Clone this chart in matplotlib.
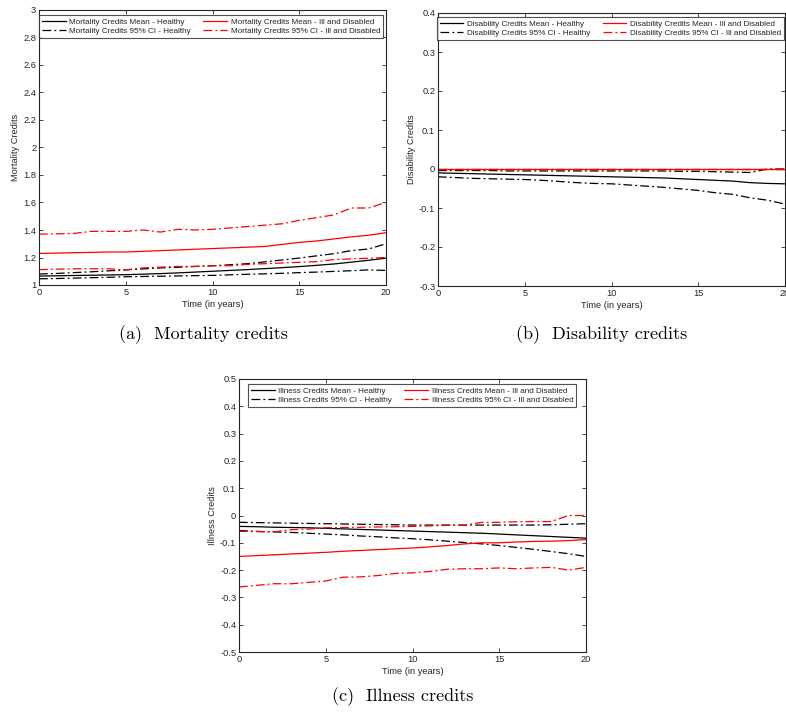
import matplotlib
matplotlib.use('Agg')
import matplotlib.pyplot as plt
import numpy as np

plt.rcParams['font.family'] = ['Liberation Sans', 'DejaVu Sans']

years = np.arange(0, 21)

# (a) mortality credits
mort_mean_h = [1.065, 1.067, 1.069, 1.071, 1.073, 1.075, 1.079, 1.083, 1.088, 1.094, 1.100,
               1.106, 1.112, 1.119, 1.126, 1.134, 1.143, 1.153, 1.166, 1.180, 1.195]
mort_hi_h = [1.080, 1.084, 1.090, 1.096, 1.103, 1.110, 1.117, 1.124, 1.129, 1.135, 1.140,
             1.147, 1.155, 1.168, 1.182, 1.196, 1.212, 1.228, 1.250, 1.262, 1.300]
mort_lo_h = [1.045, 1.047, 1.050, 1.053, 1.056, 1.060, 1.062, 1.064, 1.066, 1.068, 1.070,
             1.074, 1.078, 1.081, 1.085, 1.090, 1.094, 1.099, 1.104, 1.110, 1.106]
mort_mean_i = [1.230, 1.232, 1.235, 1.237, 1.240, 1.240, 1.245, 1.250, 1.255, 1.260, 1.265,
               1.270, 1.275, 1.280, 1.295, 1.310, 1.320, 1.335, 1.350, 1.362, 1.380]
mort_hi_i = [1.370, 1.372, 1.375, 1.390, 1.390, 1.390, 1.400, 1.385, 1.405, 1.400, 1.405,
             1.415, 1.425, 1.435, 1.445, 1.470, 1.490, 1.510, 1.560, 1.560, 1.600]
mort_lo_i = [1.112, 1.115, 1.118, 1.118, 1.118, 1.110, 1.125, 1.130, 1.135, 1.135, 1.140,
             1.140, 1.150, 1.155, 1.160, 1.165, 1.170, 1.185, 1.190, 1.195, 1.200]

# (b) disability credits
dis_mean_h = [-0.010, -0.011, -0.012, -0.013, -0.014, -0.015, -0.016, -0.017, -0.018, -0.019, -0.020,
              -0.021, -0.022, -0.023, -0.025, -0.027, -0.029, -0.031, -0.035, -0.037, -0.038]
dis_hi_h = [-0.004, -0.004, -0.004, -0.004, -0.005, -0.005, -0.005, -0.005, -0.005, -0.005, -0.005,
            -0.005, -0.005, -0.005, -0.006, -0.006, -0.007, -0.008, -0.009, 0.0, 0.0]
dis_lo_h = [-0.020, -0.022, -0.024, -0.025, -0.026, -0.027, -0.029, -0.032, -0.035, -0.037, -0.038,
            -0.041, -0.044, -0.047, -0.051, -0.055, -0.061, -0.065, -0.074, -0.080, -0.090]
dis_mean_i = [0.0] * 21
dis_hi_i = [0.0] * 21
dis_lo_i = [0.0] * 21

# (c) illness credits
ill_mean_h = [-0.040, -0.041, -0.043, -0.044, -0.045, -0.047, -0.049, -0.051, -0.053, -0.055, -0.057,
              -0.059, -0.061, -0.063, -0.065, -0.068, -0.071, -0.074, -0.077, -0.080, -0.083]
ill_hi_h = [-0.025, -0.026, -0.027, -0.028, -0.029, -0.030, -0.031, -0.032, -0.033, -0.034, -0.035,
            -0.035, -0.035, -0.035, -0.035, -0.035, -0.035, -0.035, -0.034, -0.032, -0.030]
ill_lo_h = [-0.055, -0.058, -0.060, -0.062, -0.065, -0.068, -0.071, -0.075, -0.078, -0.082, -0.085,
            -0.089, -0.094, -0.099, -0.104, -0.110, -0.117, -0.124, -0.132, -0.140, -0.150]
ill_mean_i = [-0.150, -0.147, -0.144, -0.141, -0.138, -0.135, -0.131, -0.128, -0.125, -0.122, -0.119,
              -0.115, -0.110, -0.104, -0.100, -0.100, -0.097, -0.095, -0.094, -0.092, -0.088]
ill_hi_i = [-0.058, -0.059, -0.060, -0.052, -0.050, -0.045, -0.044, -0.043, -0.042, -0.041, -0.040,
            -0.038, -0.036, -0.035, -0.025, -0.025, -0.023, -0.022, -0.022, 0.0, 0.0]
ill_lo_i = [-0.262, -0.256, -0.250, -0.250, -0.245, -0.240, -0.226, -0.225, -0.220, -0.212, -0.210,
            -0.205, -0.197, -0.195, -0.195, -0.192, -0.195, -0.192, -0.190, -0.200, -0.190]

DD = (0, (7, 2.5, 1.5, 2.5))
TXT = '#262626'


def fmt1(v):
    s = ('%.1f' % v).rstrip('0').rstrip('.')
    return '0' if s in ('-0', '0') else s


def panel(ax, name, series, ylim, yticks, leg_anchor):
    mh, hh, lh, mi, hi, li = series
    ax.plot(years, mh, color='black', lw=0.9, label=name + ' Credits Mean - Healthy')
    ax.plot(years, hh, color='black', lw=0.9, ls=DD, label=name + ' Credits 95% CI - Healthy')
    ax.plot(years, lh, color='black', lw=0.9, ls=DD)
    ax.plot(years, mi, color='red', lw=0.9, label=name + ' Credits Mean - Ill and Disabled')
    ax.plot(years, hi, color='red', lw=0.9, ls=DD, label=name + ' Credits 95% CI - Ill and Disabled')
    ax.plot(years, li, color='red', lw=0.9, ls=DD)
    ax.set_xlim(0, 20)
    ax.set_ylim(*ylim)
    ax.set_xticks([0, 5, 10, 15, 20])
    ax.set_yticks(yticks)
    ax.set_yticklabels([fmt1(v) for v in yticks])
    ax.tick_params(direction='in', top=True, right=True, length=3, width=0.6,
                   labelsize=6.7, colors=TXT, pad=2)
    for s in ax.spines.values():
        s.set_linewidth(0.8)
        s.set_color(TXT)
    ax.set_xlabel('Time (in years)', fontsize=6.7, color=TXT, labelpad=2)
    ax.set_ylabel(name + ' Credits', fontsize=6.7, color=TXT, labelpad=2)
    leg = ax.legend(ncol=2, loc='upper center', bbox_to_anchor=leg_anchor,
                    fontsize=5.9, frameon=True, fancybox=False, handlelength=2.9,
                    handletextpad=0.45, borderpad=0.35, labelspacing=0.2,
                    borderaxespad=0, columnspacing=1.5)
    leg.get_frame().set_edgecolor(TXT)
    leg.get_frame().set_linewidth(0.8)
    for t in leg.get_texts():
        t.set_color(TXT)


fig = plt.figure(figsize=(7.86, 7.16), dpi=100)
W, H = 786.0, 716.0

ax_a = fig.add_axes([39 / W, (H - 285) / H, 347 / W, 275 / H])
ax_b = fig.add_axes([438 / W, (H - 286) / H, 347 / W, 273 / H])
ax_c = fig.add_axes([239 / W, (H - 652) / H, 347 / W, 273 / H])

panel(ax_a, 'Mortality',
      (mort_mean_h, mort_hi_h, mort_lo_h, mort_mean_i, mort_hi_i, mort_lo_i),
      (1, 3), np.round(np.arange(1, 3.01, 0.2), 1), (0.496, 0.982))
panel(ax_b, 'Disability',
      (dis_mean_h, dis_hi_h, dis_lo_h, dis_mean_i, dis_hi_i, dis_lo_i),
      (-0.3, 0.4), np.round(np.arange(-0.3, 0.41, 0.1), 1), (0.497, 0.985))
panel(ax_c, 'Illness',
      (ill_mean_h, ill_hi_h, ill_lo_h, ill_mean_i, ill_hi_i, ill_lo_i),
      (-0.5, 0.5), np.round(np.arange(-0.5, 0.51, 0.1), 1), (0.499, 0.982))

cap = dict(fontsize=13, family='cmr10', ha='center', va='center')
fig.text(203 / W, 1 - 335 / H, '(a)  Mortality credits', **cap)
fig.text(602 / W, 1 - 335 / H, '(b)  Disability credits', **cap)
fig.text(403 / W, 1 - 697 / H, '(c)  Illness credits', **cap)

fig.savefig('out.png', dpi=100)
